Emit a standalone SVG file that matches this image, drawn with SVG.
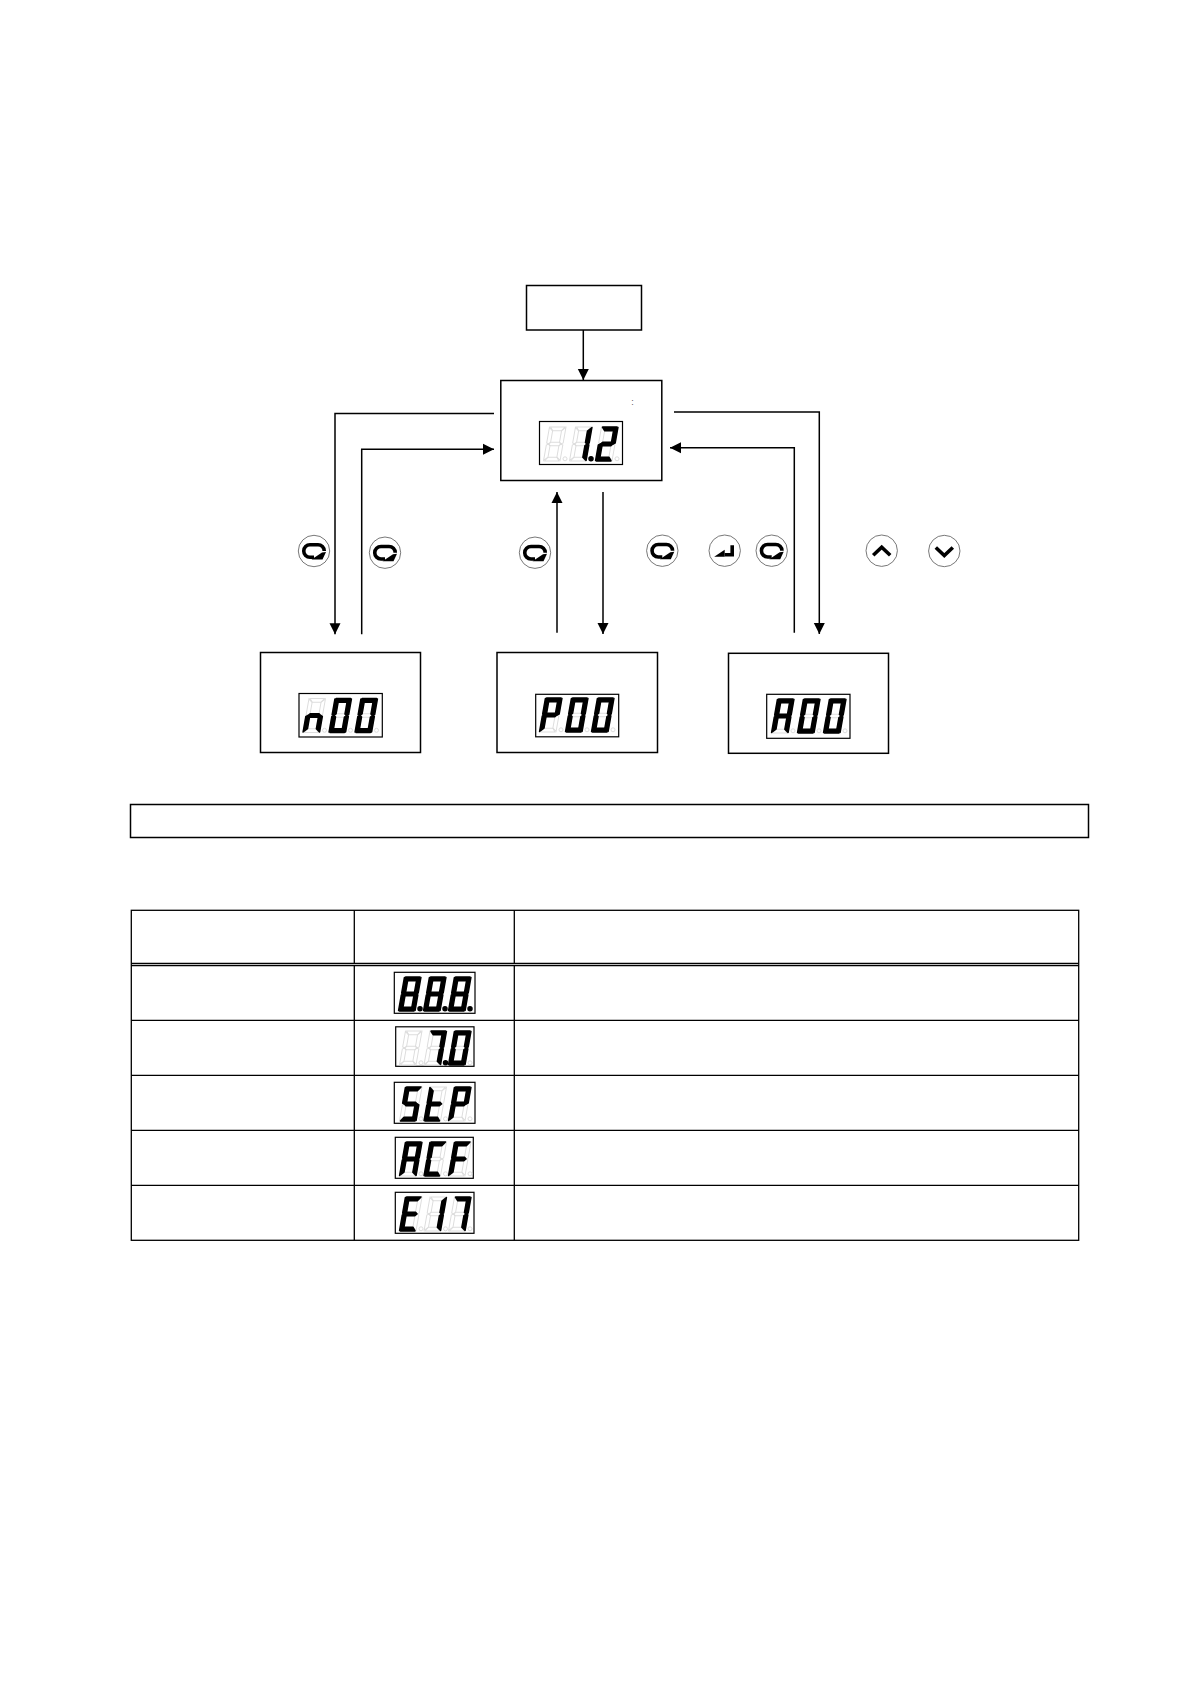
<svg xmlns="http://www.w3.org/2000/svg" width="1190" height="1684" viewBox="0 0 1190 1684">
<style>
.box{fill:#fff;stroke:#000;stroke-width:1.5}
.disp{fill:#fff;stroke:#000;stroke-width:1.2}
.con{fill:none;stroke:#000;stroke-width:1.5;marker-end:url(#ah)}
.gh{fill:none;stroke:#ddd;stroke-width:1}
.l{fill:#000;stroke:#000;stroke-width:1.5;stroke-linejoin:round}
.tb{stroke:#000;stroke-width:1.3;fill:none}
.btn{fill:#fff;stroke:#555;stroke-width:.8}
.ic{fill:none;stroke:#000;stroke-width:3.6;stroke-linejoin:miter}
.ich{fill:#000;stroke:none}
</style>
<defs>
<marker id="ah" markerUnits="userSpaceOnUse" markerWidth="12" markerHeight="12" refX="11" refY="6" orient="auto"><path d="M0 .5L11 6L0 11.500Z" fill="#000"/></marker>
<polygon id="a" points="1,0 15.5,0 12.5,3.8 4,3.8" transform="translate(-1.5) skewX(-10)"/>
<polygon id="b" points="16.5,.5 16.5,16 14.5,17 12.7,15.5 12.7,4" transform="translate(-1.5) skewX(-10)"/>
<polygon id="c" points="16.5,18 16.5,33.5 12.7,30.2 12.7,18.5 14.5,17" transform="translate(-1.5) skewX(-10)"/>
<polygon id="d" points="1,34 15.5,34 12.7,30.2 3.8,30.2" transform="translate(-1.5) skewX(-10)"/>
<polygon id="e" points="0,18 0,33.5 3.8,30.2 3.8,18.5 2,17" transform="translate(-1.5) skewX(-10)"/>
<polygon id="f" points="0,.5 0,16 2,17 3.8,15.5 3.8,4" transform="translate(-1.5) skewX(-10)"/>
<polygon id="m" points="2,17 3.8,15.3 12.7,15.3 14.500,17 12.700,18.700 3.800,18.700" transform="translate(-1.5) skewX(-10)"/>
<circle id="dp" cx="14" cy="31.8" r="2"/>
<g id="g0"><use href="#a"/><use href="#b"/><use href="#c"/><use href="#d"/><use href="#e"/><use href="#f"/></g>
<g id="g1"><use href="#b"/><use href="#c"/></g>
<g id="g2"><use href="#a"/><use href="#b"/><use href="#m"/><use href="#e"/><use href="#d"/></g>
<g id="g7"><use href="#a"/><use href="#b"/><use href="#c"/></g>
<g id="g8"><use href="#g0"/><use href="#m"/></g>
<g id="gn"><use href="#e"/><use href="#m"/><use href="#c"/></g>
<g id="gP"><use href="#a"/><use href="#b"/><use href="#e"/><use href="#f"/><use href="#m"/></g>
<g id="gA"><use href="#gP"/><use href="#c"/></g>
<g id="gS"><use href="#a"/><use href="#f"/><use href="#m"/><use href="#c"/><use href="#d"/></g>
<g id="gt"><use href="#f"/><use href="#e"/><use href="#d"/><use href="#m"/></g>
<g id="gC"><use href="#a"/><use href="#f"/><use href="#e"/><use href="#d"/></g>
<g id="gF"><use href="#a"/><use href="#f"/><use href="#m"/><use href="#e"/></g>
<g id="gE"><use href="#gF"/><use href="#d"/></g>
<g id="gh"><use href="#g8"/><use href="#dp"/></g>
<g id="loop"><circle class="btn" r="15.7"/><path class="ic" d="M0 6.250H-4A6.250 6.250 0 0 1 -4 -6.250H4A6.250 6.250 0 0 1 10.250 0"/><path class="ich" d="M-2.500 8.500L8 1.500L12 1L8.500 8.500Z"/></g>
</defs>

<g id="connectors">
<path class="con" d="M583.300 330V380"/>
<path class="con" d="M494 413.500H335V634.300"/>
<path class="con" d="M361.700 634.300V449.300H494"/>
<path class="con" d="M557 632.700V492"/>
<path class="con" d="M603 492V634"/>
<path class="con" d="M674 412H819.300V634"/>
<path class="con" d="M794.300 632.700V447.700H670"/>
</g>

<g id="node-top"><rect class="box" x="526.500" y="285.500" width="115" height="44.500"/></g>
<g id="node-main">
<rect class="box" x="500.800" y="380.500" width="161" height="100"/>
<text x="632.500" y="405" font-family="Liberation Sans, sans-serif" font-size="9" text-anchor="middle" fill="#555">:</text>
<rect class="disp" x="539.500" y="421.500" width="83" height="43"/>
<use class="gh" href="#gh" x="551" y="427"/><use class="gh" href="#gh" x="577" y="427"/><use class="gh" href="#gh" x="603" y="427"/>
<use class="l" href="#g1" x="577" y="427"/><use class="l" href="#dp" x="577" y="427"/><use class="l" href="#g2" x="603" y="427"/>
</g>
<g id="node-n">
<rect class="box" x="260.500" y="652.500" width="160" height="100"/>
<rect class="disp" x="299" y="693.500" width="83.300" height="43.500"/>
<use class="gh" href="#gh" x="310.500" y="698.500"/><use class="gh" href="#gh" x="336.500" y="698.500"/><use class="gh" href="#gh" x="362.500" y="698.500"/>
<use class="l" href="#gn" x="310.500" y="698.500"/><use class="l" href="#g0" x="336.500" y="698.500"/><use class="l" href="#g0" x="362.500" y="698.500"/>
</g>
<g id="node-p">
<rect class="box" x="497" y="652.500" width="160.500" height="100"/>
<rect class="disp" x="535.700" y="694.300" width="83" height="42.500"/>
<use class="gh" href="#gh" x="547" y="698"/><use class="gh" href="#gh" x="573" y="698"/><use class="gh" href="#gh" x="599" y="698"/>
<use class="l" href="#gP" x="547" y="698"/><use class="l" href="#g0" x="573" y="698"/><use class="l" href="#g0" x="599" y="698"/>
</g>
<g id="node-a">
<rect class="box" x="728.500" y="653.300" width="160" height="100"/>
<rect class="disp" x="766.700" y="694.300" width="83.300" height="44"/>
<use class="gh" href="#gh" x="779" y="699"/><use class="gh" href="#gh" x="805" y="699"/><use class="gh" href="#gh" x="831" y="699"/>
<use class="l" href="#gA" x="779" y="699"/><use class="l" href="#g0" x="805" y="699"/><use class="l" href="#g0" x="831" y="699"/>
</g>

<g id="buttons">
<use href="#loop" x="314" y="551"/>
<use href="#loop" x="385" y="552.700"/>
<use href="#loop" x="535" y="552.700"/>
<use href="#loop" x="662.300" y="550.700"/>
<use href="#loop" x="771.700" y="550.700"/>
<g transform="translate(724.700 550.700)"><circle class="btn" r="15.700"/><path class="ic" d="M7.500 -5.500V4H0"/><path class="ich" d="M-10.500 6L0 -1V6Z"/></g>
<g transform="translate(881.700 550.700)"><circle class="btn" r="15.700"/><path class="ic" d="M-8.500 4.500L0 -3.500L8.500 4.500"/></g>
<g transform="translate(944.300 551)"><circle class="btn" r="15.700"/><path class="ic" d="M-8.500 -3.500L0 4.500L8.500 -3.500"/></g>
</g>

<g id="note"><rect class="box" x="130.500" y="804.500" width="958" height="33"/></g>

<g id="table">
<rect class="tb" x="131.300" y="910.300" width="947.400" height="330"/>
<path class="tb" d="M131.300 963.300H1078.700M131.300 965.500H1078.700M131.300 1020.300H1078.700M131.300 1075.300H1078.700M131.300 1130.300H1078.700M131.300 1185.300H1078.700M354.300 910.300V963.300M354.300 965.500V1240.300M514.300 910.300V963.300M514.300 965.500V1240.300"/>
</g>

<g id="disp-888">
<rect class="disp" x="394.300" y="972.300" width="80.700" height="41"/>
<use class="l" href="#g8" x="406" y="977"/><use class="l" href="#dp" x="406" y="977"/><use class="l" href="#g8" x="431" y="977"/><use class="l" href="#dp" x="431" y="977"/><use class="l" href="#g8" x="456" y="977"/><use class="l" href="#dp" x="456" y="977"/>
</g>
<g id="disp-70">
<rect class="disp" x="395.700" y="1026.800" width="78.300" height="39.500"/>
<use class="gh" href="#gh" x="407" y="1031"/><use class="gh" href="#gh" x="431.500" y="1031"/><use class="gh" href="#gh" x="456" y="1031"/>
<use class="l" href="#g7" x="431.500" y="1031"/><use class="l" href="#dp" x="431.500" y="1031"/><use class="l" href="#g0" x="456" y="1031"/>
</g>
<g id="disp-stp">
<rect class="disp" x="394.300" y="1082.300" width="80.700" height="41"/>
<use class="gh" href="#gh" x="407" y="1087"/><use class="gh" href="#gh" x="431.500" y="1087"/><use class="gh" href="#gh" x="456" y="1087"/>
<use class="l" href="#gS" x="407" y="1087"/><use class="l" href="#gt" x="431.500" y="1087"/><use class="l" href="#gP" x="456" y="1087"/>
</g>
<g id="disp-acf">
<rect class="disp" x="395.300" y="1137.300" width="78" height="41"/>
<use class="gh" href="#gh" x="407" y="1142"/><use class="gh" href="#gh" x="431.500" y="1142"/><use class="gh" href="#gh" x="456" y="1142"/>
<use class="l" href="#gA" x="407" y="1142"/><use class="l" href="#gC" x="431.500" y="1142"/><use class="l" href="#gF" x="456" y="1142"/>
</g>
<g id="disp-e17">
<rect class="disp" x="395.300" y="1192.300" width="78.700" height="41"/>
<use class="gh" href="#gh" x="407" y="1197"/><use class="gh" href="#gh" x="431.500" y="1197"/><use class="gh" href="#gh" x="456" y="1197"/>
<use class="l" href="#gE" x="407" y="1197"/><use class="l" href="#g1" x="431.500" y="1197"/><use class="l" href="#g7" x="456" y="1197"/>
</g>
</svg>
